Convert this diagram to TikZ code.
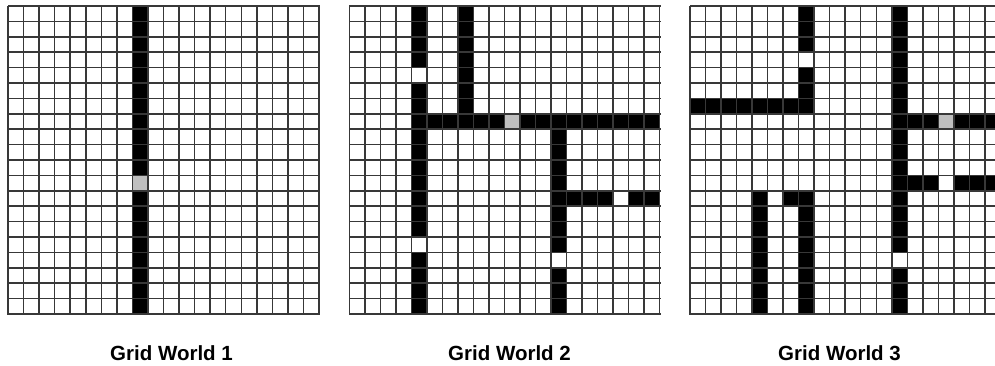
\documentclass[tikz,border=0pt]{standalone}
\usepackage{fontspec}
\setmainfont{Liberation Sans}
\tikzset{
  wall/.style={fill=black},
  agent/.style={fill=black!25},
  gridline/.style={draw=black!78, line width=1.5pt},
  caption/.style={font=\fontsize{20.5}{24}\selectfont\bfseries, inner sep=0pt, anchor=base west}
}
\newcommand{\gridlinesall}{%
  \foreach \i in {0,...,20} {
    \draw[gridline] (\i,0) -- (\i,20.08);
    \draw[gridline] (0,\i) -- (20.08,\i);
  }%
}
\begin{document}
\begin{tikzpicture}[x=1pt,y=-1pt]
\useasboundingbox[fill=white] (0,0) rectangle (995,366);
% Grid World 1
\begin{scope}[shift={(8,6)}, x=15.55pt, y=-15.4pt]
  \fill[wall] (8,0) rectangle (9,11);
  \fill[wall] (8,12) rectangle (9,20);
  \fill[agent] (8,11) rectangle (9,12);
  \gridlinesall
\end{scope}
% Grid World 2
\begin{scope}[shift={(349.3,6)}, x=15.52pt, y=-15.4pt]
  \fill[wall] (4,0) rectangle (5,4);
  \fill[wall] (4,5) rectangle (5,15);
  \fill[wall] (4,16) rectangle (5,20);
  \fill[wall] (7,0) rectangle (8,7);
  \fill[wall] (4,7) rectangle (10,8);
  \fill[wall] (11,7) rectangle (20,8);
  \fill[agent] (10,7) rectangle (11,8);
  \fill[wall] (13,8) rectangle (14,16);
  \fill[wall] (13,17) rectangle (14,20);
  \fill[wall] (14,12) rectangle (17,13);
  \fill[wall] (18,12) rectangle (20,13);
  \gridlinesall
\end{scope}
% Grid World 3
\begin{scope}[shift={(690,6)}, x=15.52pt, y=-15.4pt]
  \fill[wall] (7,0) rectangle (8,3);
  \fill[wall] (7,4) rectangle (8,7);
  \fill[wall] (0,6) rectangle (7,7);
  \fill[wall] (13,0) rectangle (14,16);
  \fill[wall] (13,17) rectangle (14,20);
  \fill[wall] (14,7) rectangle (16,8);
  \fill[wall] (17,7) rectangle (20,8);
  \fill[agent] (16,7) rectangle (17,8);
  \fill[wall] (14,11) rectangle (16,12);
  \fill[wall] (17,11) rectangle (20,12);
  \fill[wall] (4,12) rectangle (5,20);
  \fill[wall] (6,12) rectangle (8,13);
  \fill[wall] (7,13) rectangle (8,20);
  \gridlinesall
\end{scope}
\node[caption] (c1) at (110,360) {Grid World 1};
\node[caption] (c2) at (448,360) {Grid World 2};
\node[caption] (c3) at (778,360) {Grid World 3};
\end{tikzpicture}
\end{document}
